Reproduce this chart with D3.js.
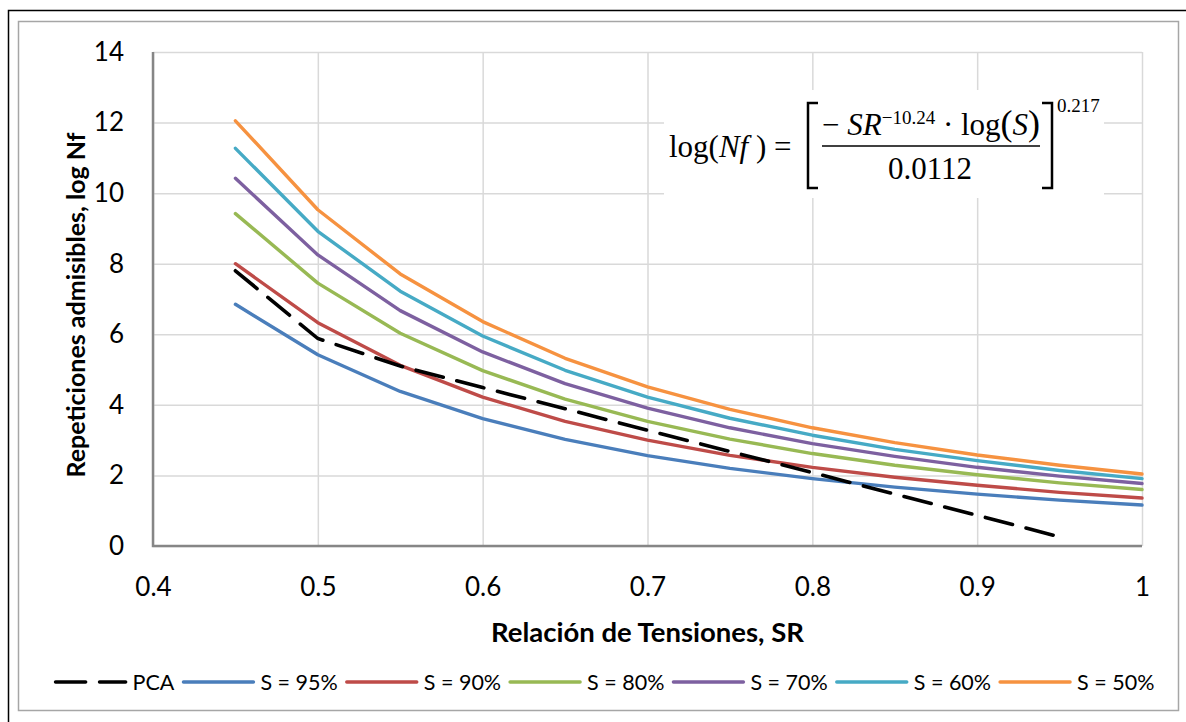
<!DOCTYPE html>
<html>
<head>
<meta charset="utf-8">
<script src="https://cdn.jsdelivr.net/npm/d3@7"></script>
<style>
  body { margin: 0; background: #fff; }
  svg { display: block; }
</style>
</head>
<body>
<svg id="chart" width="1186" height="722"></svg>
<script>
// relacion de tensiones SR (eje x)
var srValues = [0.45, 0.5, 0.55, 0.6, 0.65, 0.7, 0.75, 0.8, 0.85, 0.9, 0.95, 1.0];
// log Nf
var pcaValues = [7.80, 5.88, 5.10, 4.49, 3.89, 3.28, 2.68, 2.08, 1.47, 0.87, 0.26];
var s95 = [6.85, 5.42, 4.38, 3.61, 3.02, 2.56, 2.20, 1.91, 1.67, 1.47, 1.30, 1.16];
var s90 = [8.00, 6.33, 5.12, 4.22, 3.53, 3.00, 2.57, 2.23, 1.95, 1.72, 1.52, 1.36];
var s80 = [9.42, 7.45, 6.03, 4.97, 4.16, 3.53, 3.03, 2.62, 2.29, 2.02, 1.79, 1.60];
var s70 = [10.42, 8.25, 6.67, 5.50, 4.60, 3.91, 3.35, 2.90, 2.54, 2.23, 1.98, 1.77];
var s60 = [11.27, 8.92, 7.22, 5.95, 4.98, 4.22, 3.62, 3.14, 2.74, 2.42, 2.14, 1.91];
var s50 = [12.05, 9.53, 7.71, 6.36, 5.32, 4.51, 3.87, 3.35, 2.93, 2.58, 2.29, 2.04];

var seriesNames = ["PCA", "S = 95%", "S = 90%", "S = 80%", "S = 70%", "S = 60%", "S = 50%"];
var seriesData = [pcaValues, s95, s90, s80, s70, s60, s50];
var seriesColors = ["#000000", "#4A7EBB", "#BE4B48", "#98B954", "#7D60A0", "#46AAC5", "#F69240"];

var xTicks = [0.4, 0.5, 0.6, 0.7, 0.8, 0.9, 1];
var yTicks = [0, 2, 4, 6, 8, 10, 12, 14];

var svg = d3.select("#chart");
var fontSans = "Lato, 'Open Sans', sans-serif";

// marcos exteriores
svg.append("path")
    .attr("d", "M8.5,722 V10.5 H1186")
    .attr("fill", "none")
    .attr("stroke", "#000")
    .attr("stroke-width", 1.5);
svg.append("rect")
    .attr("x", 18.5).attr("y", 21.5)
    .attr("width", 1160).attr("height", 689)
    .attr("fill", "none")
    .attr("stroke", "#a6a6a6")
    .attr("stroke-width", 1.5);

var plot = {left: 153, right: 1142, top: 52, bottom: 546};

var x = d3.scaleLinear().domain([0.4, 1]).range([plot.left, plot.right]);
var y = d3.scaleLinear().domain([0, 14]).range([plot.bottom, plot.top]);

// grid
svg.append("g")
    .attr("transform", "translate(0," + plot.bottom + ")")
    .call(d3.axisBottom(x).tickValues(xTicks).tickSize(-(plot.bottom - plot.top)).tickFormat(""))
    .call(function (g) {
        g.select(".domain").remove();
        g.selectAll("line").attr("stroke", "#d9d9d9").attr("stroke-width", 1.5);
    });
svg.append("g")
    .attr("transform", "translate(" + plot.left + ",0)")
    .call(d3.axisLeft(y).tickValues(yTicks).tickSize(-(plot.right - plot.left)).tickFormat(""))
    .call(function (g) {
        g.select(".domain").remove();
        g.selectAll("line").attr("stroke", "#d9d9d9").attr("stroke-width", 1.5);
    });

// tick labels
svg.append("g")
    .attr("transform", "translate(0," + plot.bottom + ")")
    .call(d3.axisBottom(x).tickValues(xTicks).tickSize(0).tickPadding(32).tickFormat(d3.format("")))
    .call(function (g) {
        g.select(".domain").remove();
        g.selectAll("text").attr("font-family", fontSans).attr("font-size", 26).attr("fill", "#000");
    });
svg.append("g")
    .attr("transform", "translate(" + plot.left + ",0)")
    .call(d3.axisLeft(y).tickValues(yTicks).tickSize(0).tickPadding(29))
    .call(function (g) {
        g.select(".domain").remove();
        g.selectAll("text").attr("font-family", fontSans).attr("font-size", 26).attr("fill", "#000");
    });

// ejes
svg.append("path")
    .attr("d", "M" + plot.left + "," + plot.top + " V" + plot.bottom + " H" + plot.right)
    .attr("fill", "none")
    .attr("stroke", "#868686")
    .attr("stroke-width", 2.5);

// formula (caja blanca)
var fx = svg.append("g").attr("class", "formula");
fx.append("rect")
    .attr("x", 664).attr("y", 90).attr("width", 440).attr("height", 108)
    .attr("fill", "#fff");

var serif = "'Liberation Serif', 'DejaVu Serif', serif";
var lhs = fx.append("text")
    .attr("x", 669).attr("y", 157)
    .attr("font-family", serif).attr("font-size", 31);
lhs.append("tspan").text("log(");
lhs.append("tspan").attr("font-style", "italic").text("Nf");
lhs.append("tspan").text(" ) =");

fx.append("path")
    .attr("d", "M818,103 H808 V188 H818 M1042,103 H1052 V188 H1042")
    .attr("fill", "none").attr("stroke", "#000").attr("stroke-width", 2.5);

var num = fx.append("text")
    .attr("x", 822).attr("y", 135)
    .attr("font-family", serif).attr("font-size", 31);
num.append("tspan").text("\u2212 ");
num.append("tspan").attr("font-style", "italic").text("SR");
num.append("tspan").attr("font-size", 19).attr("dy", -11).text("\u221210.24");
num.append("tspan").attr("dy", 11).text("  \u00b7 log");
num.append("tspan").attr("font-size", 36).text("(");
num.append("tspan").attr("font-style", "italic").text("S");
num.append("tspan").attr("font-size", 36).text(")");

fx.append("line")
    .attr("x1", 822).attr("x2", 1040).attr("y1", 146).attr("y2", 146)
    .attr("stroke", "#000").attr("stroke-width", 1.5);

fx.append("text")
    .attr("x", 930).attr("y", 179)
    .attr("text-anchor", "middle")
    .attr("font-family", serif).attr("font-size", 31)
    .text("0.0112");

fx.append("text")
    .attr("x", 1057).attr("y", 112)
    .attr("font-family", serif).attr("font-size", 19)
    .text("0.217");

// curvas
var line = d3.line()
    .x(function (d, i) { return x(srValues[i]); })
    .y(function (d) { return y(d); });

svg.append("g")
    .selectAll("path")
    .data(seriesData.slice(1))
    .enter().append("path")
    .attr("d", line)
    .attr("fill", "none")
    .attr("stroke", function (d, i) { return seriesColors[i + 1]; })
    .attr("stroke-width", 3.4)
    .attr("stroke-linejoin", "round")
    .attr("stroke-linecap", "round");

svg.append("path")
    .datum(pcaValues)
    .attr("d", line)
    .attr("fill", "none")
    .attr("stroke", "#000")
    .attr("stroke-width", 3.6)
    .attr("stroke-dasharray", "28,14")
    .attr("stroke-linecap", "round");

// titulos de ejes
svg.append("text")
    .attr("x", (plot.left + plot.right) / 2).attr("y", 642)
    .attr("text-anchor", "middle")
    .attr("font-family", fontSans).attr("font-size", 27.5).attr("font-weight", "bold")
    .text("Relación de Tensiones, SR");

svg.append("text")
    .attr("transform", "translate(85,305) rotate(-90)")
    .attr("text-anchor", "middle")
    .attr("font-family", fontSans).attr("font-size", 25).attr("font-weight", "bold")
    .text("Repeticiones admisibles, log Nf");

// leyenda
var legend = svg.append("g");
var cursor = 0, sampleW = 70, textGap = 7, itemGap = 9;
seriesNames.forEach(function (name, i) {
    var g = legend.append("g").attr("transform", "translate(" + cursor + ",0)");
    g.append("line")
        .attr("x1", 0).attr("x2", sampleW).attr("y1", 0).attr("y2", 0)
        .attr("stroke", seriesColors[i])
        .attr("stroke-width", i === 0 ? 3.6 : 3.4)
        .attr("stroke-dasharray", i === 0 ? "30,14" : null)
        .attr("stroke-linecap", "round");
    var t = g.append("text")
        .attr("x", sampleW + textGap).attr("y", 8)
        .attr("font-family", fontSans).attr("font-size", 21.5)
        .text(name);
    cursor += sampleW + textGap + t.node().getComputedTextLength() + itemGap;
});
var legendW = cursor - itemGap;
legend.attr("transform", "translate(" + (605 - legendW / 2) + ",682)");
</script>
</body>
</html>
